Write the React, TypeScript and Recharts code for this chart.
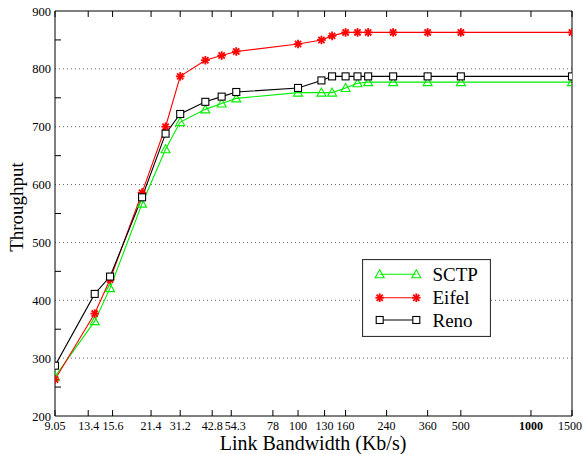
import React from 'react';
import { LineChart, Line, XAxis, YAxis, CartesianGrid, Legend } from 'recharts';

const bandwidth = [9.05, 13.4, 15.6, 21.4, 27, 31.2, 40, 47, 54.3, 100, 126, 140, 160, 180, 200, 256, 360, 500, 1500];
const sctp = [268, 364, 421, 567, 661, 708, 730, 740, 749, 759, 759, 759, 767, 775, 777, 777, 777, 777, 777];
const eifel = [263, 377, 436, 586, 700, 787, 815, 823, 830, 843, 850, 857, 863, 863, 863, 863, 863, 863, 863];
const reno = [287, 411, 441, 578, 688, 722, 743, 752, 760, 767, 780, 787, 787, 787, 787, 787, 787, 787, 787];
const xTicks = [9.05, 13.4, 15.6, 21.4, 31.2, 42.8, 54.3, 78, 100, 130, 160, 240, 360, 500, 1000, 1500];
const yTicks = [200, 250, 300, 350, 400, 450, 500, 550, 600, 650, 700, 750, 800, 850, 900];
const yMinorTicks = [250, 350, 450, 550, 650, 750, 850];
const seriesNames = ['SCTP', 'Eifel', 'Reno'];

const data = bandwidth.map((bw, i) => ({ bw, SCTP: sctp[i], Eifel: eifel[i], Reno: reno[i] }));

const FONT = "'Liberation Serif', 'Times New Roman', serif";
const COLORS: Record<string, string> = { SCTP: '#00ee00', Eifel: '#ff0000', Reno: '#000000' };
const TICK_LEN = 6;
// small pixel nudges reproducing the reference's hand-placed tick marks / labels
const TICK_NUDGE: Record<string, number> = { '13.4': -6.5, '15.6': 2.5, '21.4': 9, '54.3': -5 };
const LABEL_NUDGE: Record<string, number> = { '13.4': -6, '15.6': 3, '21.4': 9, '54.3': -1, '1500': -2 };

function Marker({ kind, cx, cy }: { kind: string; cx: number; cy: number }) {
  const c = COLORS[kind];
  if (kind === 'SCTP') {
    return (
      <polygon
        points={`${cx},${cy - 4.5} ${cx - 4.5},${cy + 3.5} ${cx + 4.5},${cy + 3.5}`}
        fill="none"
        stroke={c}
        strokeWidth={1.1}
      />
    );
  }
  if (kind === 'Eifel') {
    const r = 4.3;
    const d = 3.1;
    return (
      <g stroke={c} strokeWidth={1.8}>
        <line x1={cx - r} y1={cy} x2={cx + r} y2={cy} />
        <line x1={cx} y1={cy - r} x2={cx} y2={cy + r} />
        <line x1={cx - d} y1={cy - d} x2={cx + d} y2={cy + d} />
        <line x1={cx - d} y1={cy + d} x2={cx + d} y2={cy - d} />
      </g>
    );
  }
  return <rect x={cx - 3.5} y={cy - 3.5} width={7} height={7} fill="#fff" stroke={c} strokeWidth={1.1} />;
}

function makeDot(kind: string) {
  return (p: any) => {
    if (p.cx == null || p.cy == null) return <g key={`${kind}-${p.index}`} />;
    return <Marker key={`${kind}-${p.index}`} kind={kind} cx={p.cx} cy={p.cy} />;
  };
}

function LegendBox() {
  const rows = [15.3, 38.7, 61];
  return (
    <svg width={129} height={78} style={{ display: 'block' }}>
      <rect x={0.5} y={0.5} width={128} height={77} fill="#fff" stroke="#333" strokeWidth={1.2} />
      {seriesNames.map((name, i) => (
        <g key={name}>
          <line x1={17.7} y1={rows[i]} x2={54.3} y2={rows[i]} stroke={COLORS[name]} strokeWidth={1.1} />
          <Marker kind={name} cx={17.7} cy={rows[i]} />
          <Marker kind={name} cx={54.3} cy={rows[i]} />
          <text x={70.5} y={rows[i] + 6.5} fontSize={19} fontFamily={FONT} fill="#000">
            {name}
          </text>
        </g>
      ))}
    </svg>
  );
}

function BottomTick(props: any) {
  const { x, y, payload } = props;
  const v = payload.value;
  const key = String(v);
  const tx = x + (TICK_NUDGE[key] || 0);
  const lx = x + (LABEL_NUDGE[key] || 0);
  return (
    <g>
      <line x1={tx} y1={y} x2={tx} y2={y - TICK_LEN} stroke="#000" strokeWidth={1} />
      <text
        x={lx}
        y={y + 13.5}
        textAnchor="middle"
        fontSize={12}
        fontFamily={FONT}
        fontWeight={v === 1000 ? 'bold' : 'normal'}
        fill="#000"
      >
        {key}
      </text>
    </g>
  );
}

function TopTick(props: any) {
  const { x, y, payload } = props;
  const tx = x + (TICK_NUDGE[String(payload.value)] || 0);
  return <line x1={tx} y1={y} x2={tx} y2={y + TICK_LEN} stroke="#000" strokeWidth={1} />;
}

function LeftTick(props: any) {
  const { x, y, payload } = props;
  const v = payload.value;
  if (yMinorTicks.includes(v)) {
    return <line x1={x} y1={y} x2={x + TICK_LEN} y2={y} stroke="#000" strokeWidth={1} />;
  }
  return (
    <text x={x - 4} y={y + 4.5} textAnchor="end" fontSize={12.5} fontFamily={FONT} fill="#000">
      {String(v)}
    </text>
  );
}

function RightTick(props: any) {
  const { x, y, payload } = props;
  if (!yMinorTicks.includes(payload.value)) return <g />;
  return <line x1={x} y1={y} x2={x - TICK_LEN} y2={y} stroke="#000" strokeWidth={1} />;
}

export default function App() {
  return (
    <div style={{ position: 'absolute', left: 0, top: 0, width: 583, height: 454, background: '#fff' }}>
      <LineChart
        width={583}
        height={454}
        data={data}
        margin={{ top: 10, right: 10, bottom: 37, left: 54 }}
      >
        <CartesianGrid
          xAxisId="b"
          yAxisId="l"
          vertical={false}
          stroke="#666"
          strokeDasharray="1 3"
          horizontalValues={[300, 400, 500, 600, 700, 800]}
        />
        <XAxis
          xAxisId="b"
          dataKey="bw"
          type="number"
          scale="log"
          domain={[9.05, 1500]}
          allowDataOverflow
          ticks={xTicks}
          interval={0}
          height={1}
          tickSize={0}
          tickMargin={0}
          tick={<BottomTick />}
          tickLine={false}
          axisLine={{ stroke: '#000' }}
        />
        <XAxis
          xAxisId="t"
          orientation="top"
          dataKey="bw"
          type="number"
          scale="log"
          domain={[9.05, 1500]}
          allowDataOverflow
          ticks={xTicks}
          interval={0}
          height={1}
          tickSize={0}
          tickMargin={0}
          tick={<TopTick />}
          tickLine={false}
          axisLine={{ stroke: '#000' }}
        />
        <YAxis
          yAxisId="l"
          type="number"
          domain={[200, 900]}
          ticks={yTicks}
          interval={0}
          width={1}
          tickSize={0}
          tickMargin={0}
          tick={<LeftTick />}
          tickLine={false}
          axisLine={{ stroke: '#000' }}
        />
        <YAxis
          yAxisId="r"
          orientation="right"
          type="number"
          domain={[200, 900]}
          ticks={yTicks}
          interval={0}
          width={1}
          tickSize={0}
          tickMargin={0}
          tick={<RightTick />}
          tickLine={false}
          axisLine={{ stroke: '#000' }}
        />
        <Legend
          layout="vertical"
          align="center"
          verticalAlign="middle"
          content={() => <LegendBox />}
          wrapperStyle={{ left: 362, top: 259, width: 129, height: 78 }}
        />
        {seriesNames.map((name) => (
          <Line
            key={name}
            xAxisId="b"
            yAxisId="l"
            type="linear"
            dataKey={name}
            stroke={COLORS[name]}
            strokeWidth={1.1}
            dot={makeDot(name)}
            activeDot={false}
            isAnimationActive={false}
          />
        ))}
      </LineChart>
      <svg
        width={583}
        height={454}
        style={{ position: 'absolute', left: 0, top: 0, pointerEvents: 'none' }}
      >
        <text x={313} y={449.5} textAnchor="middle" fontSize={20} fontFamily={FONT} fill="#000">
          Link Bandwidth (Kb/s)
        </text>
        <text
          x={0}
          y={0}
          transform="translate(23, 207) rotate(-90)"
          textAnchor="middle"
          fontSize={19}
          fontFamily={FONT}
          fill="#000"
        >
          Throughput
        </text>
      </svg>
    </div>
  );
}
